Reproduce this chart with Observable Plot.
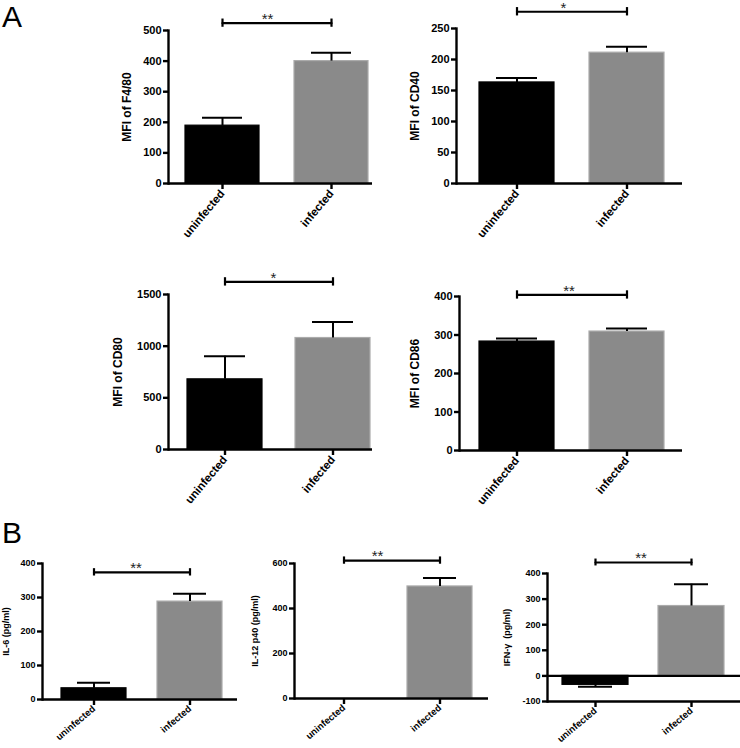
<!DOCTYPE html>
<html>
<head>
<meta charset="utf-8">
<script src="https://cdn.jsdelivr.net/npm/d3@7"></script>
<script src="https://cdn.jsdelivr.net/npm/@observablehq/plot@0.6"></script>
<style>
  html, body { margin: 0; padding: 0; background: #fff; }
  #root { position: relative; width: 740px; height: 748px; overflow: hidden; background: #fff;
          font-family: "Liberation Sans", Arial, sans-serif; }
  .panel { position: absolute; }
  .letter { position: absolute; font-size: 30px; line-height: 34px; color: #000; }
</style>
</head>
<body>
<div id="root"></div>
<script>
// ---------------- data ----------------
const categories = ["uninfected", "infected"];
const yLabels = ["MFI of F4/80", "MFI of CD40", "MFI of CD80", "MFI of CD86",
                 "IL-6 (pg/ml)", "IL-12 p40 (pg/ml)", "IFN-\u03b3  (pg/ml)"];
const meanUninfected = [189, 163, 679, 283, 33, 0, -35];
const meanInfected   = [400, 211, 1079, 309, 288, 498, 273];
const semUninfected  = [26, 7, 223, 8, 16, 0, 7];
const semInfected    = [27, 9.5, 155, 8, 23, 38, 85];
const significance   = ["**", "*", "*", "**", "**", "**", "**"];
const bracketLevel   = [524, 277, 1622, 404, 374, 613, 443];
const yDomains = [[0, 500], [0, 250], [0, 1500], [0, 400], [0, 400], [0, 600], [-100, 400]];
const yTicks = [
  [0, 100, 200, 300, 400, 500],
  [0, 50, 100, 150, 200, 250],
  [0, 500, 1000, 1500],
  [0, 100, 200, 300, 400],
  [0, 100, 200, 300, 400],
  [0, 200, 400, 600],
  [-100, 0, 100, 200, 300, 400]
];
const panelLetters = ["A", "B"];

// ---------------- layout (positions / styles) ----------------
const A = {tickFont: 11, catFont: 11.5, labelFont: 12, rotate: -50, capInset: 17};
const B = {tickFont: 9, catFont: 9.5, labelFont: 9, rotate: -40, capInset: 16};
const layout = [
  {left: 0,   top: 0,   w: 375, h: 265, mL: 168, mR: 3,  mT: 30, mB: 82, xr: [185, 369], bw: 74.5, labelDx: -41, starDx: -3, s: A},
  {left: 375, top: 0,   w: 365, h: 265, mL: 81,  mR: 58, mT: 28, mB: 82, xr: [104, 289], bw: 75,   labelDx: -41, starDx: -6, s: A},
  {left: 0,   top: 265, w: 375, h: 265, mL: 168, mR: 3,  mT: 29, mB: 81, xr: [187, 370], bw: 75,   labelDx: -50, starDx: 3,  s: A},
  {left: 375, top: 265, w: 365, h: 265, mL: 84,  mR: 58, mT: 31, mB: 80, xr: [104, 289], bw: 75,   labelDx: -44, starDx: -2, s: A},
  {left: 0,   top: 530, w: 245, h: 218, mL: 42,  mR: 8,  mT: 33, mB: 49, xr: [61, 223],  bw: 65.5, labelDx: -36, starDx: -4, s: B},
  {left: 245, top: 530, w: 245, h: 218, mL: 49,  mR: 2,  mT: 33, mB: 50, xr: [65.5, 227], bw: 65,  labelDx: -39, starDx: -14, s: B},
  {left: 490, top: 530, w: 250, h: 218, mL: 57,  mR: 0,  mT: 43, mB: 47, xr: [72, 234],  bw: 66,   labelDx: -40, starDx: -3, s: B}
];
const letterPos = [{left: 2, top: 0}, {left: 2, top: 516}];
const barFill = {uninfected: "#000000", infected: "#8a8a8a"};
const barStroke = {uninfected: "#000000", infected: "#ababab"};
const axisW = 2.4;

const root = document.getElementById("root");

layout.forEach((L, i) => {
  const s = L.s;
  const bars = categories.map((c, k) => {
    const m = k === 0 ? meanUninfected[i] : meanInfected[i];
    const e = k === 0 ? semUninfected[i] : semInfected[i];
    return {c, m, top: m + (m < 0 ? -e : e), e};
  });
  const errBars = bars.filter(d => d.e > 0);
  const [y0, y1] = yDomains[i];
  const capH = (y1 - y0) * 0.027;
  const bracket = categories.map(c => ({c, b: bracketLevel[i]}));
  const step = (L.xr[1] - L.xr[0]) - L.bw;
  const pi = 1 - L.bw / step;

  const marks = [
    Plot.barY(bars, {x: "c", y: "m", fill: d => barFill[d.c], stroke: d => barStroke[d.c], strokeWidth: 1.2}),
    Plot.ruleX(errBars, {x: "c", y1: "m", y2: "top", stroke: "#000", strokeWidth: 2}),
    Plot.tickY(errBars, {x: "c", y: "top", stroke: "#000", strokeWidth: 2, insetLeft: s.capInset, insetRight: s.capInset}),
    Plot.axisY({ticks: yTicks[i], tickSize: 5, tickPadding: 2, strokeWidth: axisW, label: null,
                fontSize: s.tickFont, fontWeight: "bold", tickFormat: d => String(d)}),
    Plot.axisX({tickSize: 6, tickPadding: 2, strokeWidth: axisW, label: null,
                tickRotate: s.rotate, fontSize: s.catFont, fontWeight: "bold"}),
    Plot.ruleY([y0], {stroke: "#000", strokeWidth: axisW}),
    Plot.frame({anchor: "left", stroke: "#000", strokeWidth: axisW}),
    Plot.text([yLabels[i]], {frameAnchor: "left", rotate: -90, dx: L.labelDx, text: d => d,
               textAnchor: "middle", lineAnchor: "middle", fontSize: s.labelFont, fontWeight: "bold"}),
    Plot.line(bracket, {x: "c", y: "b", stroke: "#000", strokeWidth: 2.2}),
    Plot.ruleX(bracket, {x: "c", y1: d => d.b - capH, y2: d => d.b + capH, stroke: "#000", strokeWidth: 2.2}),
    Plot.text([{s: significance[i], b: bracketLevel[i]}], {y: "b", text: "s", dx: L.starDx, dy: -4,
               fontSize: 15, fontWeight: "normal", fill: "#222"})
  ];
  if (y0 < 0) marks.push(Plot.ruleY([0], {stroke: "#000", strokeWidth: axisW}));

  const svg = Plot.plot({
    width: L.w, height: L.h,
    marginLeft: L.mL, marginRight: L.mR, marginTop: L.mT, marginBottom: L.mB,
    x: {domain: categories, range: L.xr, paddingInner: pi, paddingOuter: 0, align: 0.5},
    y: {domain: yDomains[i]},
    style: {fontFamily: "'Liberation Sans', Arial, sans-serif", fontWeight: "bold", color: "#000",
            background: "transparent", overflow: "visible"},
    marks
  });
  const div = document.createElement("div");
  div.className = "panel";
  div.style.left = L.left + "px";
  div.style.top = L.top + "px";
  div.appendChild(svg);
  root.appendChild(div);
});

panelLetters.forEach((t, k) => {
  const d = document.createElement("div");
  d.className = "letter";
  d.textContent = t;
  d.style.left = letterPos[k].left + "px";
  d.style.top = letterPos[k].top + "px";
  root.appendChild(d);
});
</script>
</body>
</html>
